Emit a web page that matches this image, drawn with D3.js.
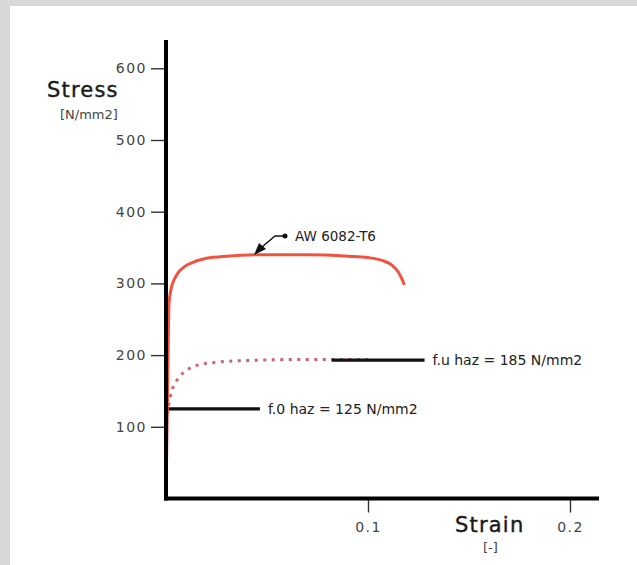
<!DOCTYPE html>
<html>
<head>
<meta charset="utf-8">
<script src="https://cdn.jsdelivr.net/npm/d3@7"></script>
<style>
  body { margin: 0; background: #d8d8d8; }
  #stage { width: 637px; height: 565px; }
  text { font-family: "DejaVu Sans", Verdana, sans-serif; }
</style>
</head>
<body>
<div id="stage"></div>
<script>
// AW 6082-T6 stress-strain curve (strain [-], stress [N/mm2])
var alloy_strain = [0, 0.0008, 0.0015, 0.0025, 0.004, 0.006, 0.009, 0.013, 0.02, 0.03, 0.05, 0.07, 0.09, 0.1, 0.107, 0.112, 0.115, 0.117, 0.118];
var alloy_stress = [0, 150, 272, 292, 305, 315, 323, 329, 335, 338, 340, 340, 338, 336, 332, 325, 316, 305, 298];

// heat affected zone curve (dotted)
var haz_strain = [0.0005, 0.002, 0.0035, 0.006, 0.0084, 0.012, 0.017, 0.025, 0.035, 0.0465, 0.07, 0.1];
var haz_stress = [118, 140, 155, 167, 175, 182, 187, 190, 192, 193, 194, 194];

// horizontal markers
var marker_level = [125, 193];
var marker_from = [0, 0.082];
var marker_to = [0.0465, 0.128];
var marker_labels = ["f.0 haz = 125 N/mm2", "f.u haz = 185 N/mm2"];

var y_ticks = [100, 200, 300, 400, 500, 600];
var x_ticks = [0.1, 0.2];
var x_tick_labels = ["0.1", "0.2"];

var svg = d3.select("#stage").append("svg")
  .attr("width", 637)
  .attr("height", 565);

// white panel
svg.append("rect")
  .attr("x", 10).attr("y", 6)
  .attr("width", 627).attr("height", 559)
  .attr("fill", "#ffffff");

var x = d3.scaleLinear().domain([0, 0.2]).range([166, 570]);
var y = d3.scaleLinear().domain([0, 600]).range([498.5, 68.3]);

var alloy = alloy_strain.map(function(d, i) { return [d, alloy_stress[i]]; });
var haz = haz_strain.map(function(d, i) { return [d, haz_stress[i]]; });

var line = d3.line()
  .x(function(d) { return x(d[0]); })
  .y(function(d) { return y(d[1]); })
  .curve(d3.curveMonotoneX);

// dotted haz curve
svg.append("path")
  .attr("d", line(haz))
  .attr("fill", "none")
  .attr("stroke", "#d2606f")
  .attr("stroke-width", 3)
  .attr("stroke-dasharray", "3 5.5");

// marker lines + labels
marker_level.forEach(function(v, i) {
  svg.append("line")
    .attr("x1", x(marker_from[i])).attr("x2", x(marker_to[i]))
    .attr("y1", y(v)).attr("y2", y(v))
    .attr("stroke", "#111").attr("stroke-width", 3.2);
  svg.append("text")
    .attr("x", x(marker_to[i]) + 8)
    .attr("y", y(v) + 5)
    .attr("font-size", "14px")
    .attr("fill", "#222")
    .text(marker_labels[i]);
});

// main curve
svg.append("path")
  .attr("d", line(alloy))
  .attr("fill", "none")
  .attr("stroke", "#f05440")
  .attr("stroke-width", 3);

// y axis
var yAxis = svg.append("g")
  .attr("transform", "translate(" + x(0) + ",0)")
  .call(d3.axisLeft(y).tickValues(y_ticks).tickSize(15).tickPadding(4));
yAxis.select(".domain").remove();
yAxis.append("line")
  .attr("x1", 0).attr("x2", 0)
  .attr("y1", 40).attr("y2", y(0) + 2)
  .attr("stroke", "#000").attr("stroke-width", 4);
yAxis.selectAll(".tick line").attr("stroke", "#333").attr("stroke-width", 1.4);
yAxis.selectAll(".tick text")
  .attr("font-family", "DejaVu Sans, Verdana, sans-serif")
  .attr("font-size", "14px")
  .attr("letter-spacing", "1.5px")
  .attr("fill", "#444");

// x axis
var xAxis = svg.append("g")
  .attr("transform", "translate(0," + y(0) + ")")
  .call(d3.axisBottom(x).tickValues(x_ticks).tickSize(14).tickPadding(10)
    .tickFormat(function(d, i) { return x_tick_labels[i]; }));
xAxis.select(".domain").remove();
xAxis.append("line")
  .attr("x1", x(0) - 2).attr("x2", 599)
  .attr("y1", 0).attr("y2", 0)
  .attr("stroke", "#000").attr("stroke-width", 4);
xAxis.selectAll(".tick line").attr("stroke", "#333").attr("stroke-width", 1.4);
xAxis.selectAll(".tick text")
  .attr("font-family", "DejaVu Sans, Verdana, sans-serif")
  .attr("font-size", "14px")
  .attr("letter-spacing", "1.5px")
  .attr("fill", "#444");

// axis titles
svg.append("text").attr("x", 47).attr("y", 97)
  .attr("font-size", "21px")
  .attr("letter-spacing", "1.2px").attr("fill", "#1a1a1a")
  .attr("stroke", "#1a1a1a").attr("stroke-width", 0.4)
  .text("Stress");
svg.append("text").attr("x", 60).attr("y", 119)
  .attr("font-size", "13px").attr("fill", "#444")
  .text("[N/mm2]");
svg.append("text").attr("x", 455).attr("y", 532)
  .attr("font-size", "21px")
  .attr("letter-spacing", "1.2px").attr("fill", "#1a1a1a")
  .attr("stroke", "#1a1a1a").attr("stroke-width", 0.4)
  .text("Strain");
svg.append("text").attr("x", 483).attr("y", 552)
  .attr("font-size", "13px").attr("fill", "#444")
  .text("[-]");

// curve label with pointer
var pointer = svg.append("g");
pointer.append("path")
  .attr("d", "M284,236 L275,236 L262,247")
  .attr("fill", "none").attr("stroke", "#111").attr("stroke-width", 1.4);
pointer.append("circle").attr("cx", 285).attr("cy", 236).attr("r", 2.5).attr("fill", "#111");
pointer.append("path")
  .attr("d", "M254,255 L259,243 L266,249 Z")
  .attr("fill", "#111");
svg.append("text").attr("x", 295).attr("y", 241)
  .attr("font-size", "13.5px").attr("fill", "#222")
  .text("AW 6082-T6");
</script>
</body>
</html>
